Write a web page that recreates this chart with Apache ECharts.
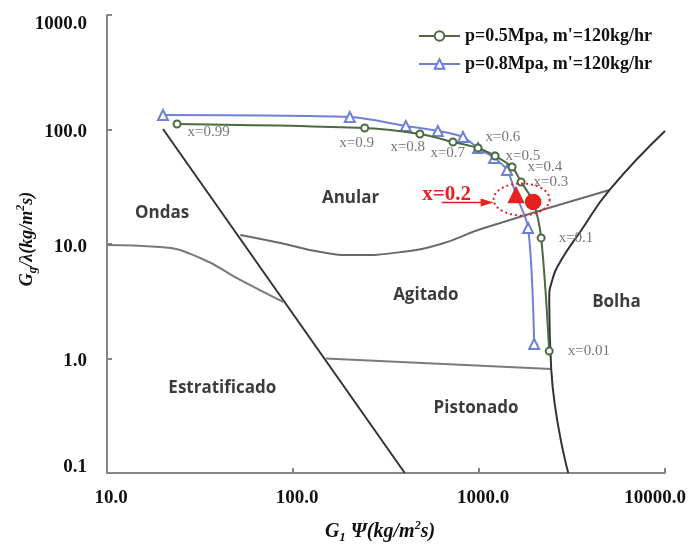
<!DOCTYPE html>
<html>
<head>
<meta charset="utf-8">
<script src="https://cdn.jsdelivr.net/npm/echarts@6/dist/echarts.min.js"></script>
<style>html,body{margin:0;padding:0;background:#fff}#c{width:690px;height:545px}</style>
</head>
<body>
<div id="c"></div>
<script>
// ---- data ----
const xTickValues = [10, 100, 1000, 10000];
const xTickLabels = ['10.0', '100.0', '1000.0', '10000.0'];
const yTickValues = [0.1, 1, 10, 100, 1000];
const yTickLabels = ['0.1', '1.0', '10.0', '100.0', '1000.0'];

const seriesNames = ["p=0.5Mpa, m'=120kg/hr", "p=0.8Mpa, m'=120kg/hr"];

// p=0.5 MPa (circles)
const g05X = [23.8, 243, 481, 724, 988, 1220, 1506, 1684, 1955, 2158, 2385];
const g05Y = [111.7, 103, 91.4, 77.8, 68.9, 58.7, 47, 34.8, 23.3, 11.3, 1.16];
const g05Q = ['x=0.99', 'x=0.9', 'x=0.8', 'x=0.7', 'x=0.6', 'x=0.5', 'x=0.4', 'x=0.3', 'x=0.2', 'x=0.1', 'x=0.01'];

// p=0.8 MPa (triangles)
const g08X = [20.0, 202, 404, 601, 820, 988, 1205, 1415, 1583, 1837, 1980];
const g08Y = [134, 128.6, 107.4, 97, 86, 68.9, 56.4, 44.3, 26.8, 13.8, 1.34];
const g08Q = ['x=0.99', 'x=0.9', 'x=0.8', 'x=0.7', 'x=0.6', 'x=0.5', 'x=0.4', 'x=0.3', 'x=0.2', 'x=0.1', 'x=0.01'];

const highlightQ = 'x=0.2';

// flow regime boundaries
const bStratX = [20.0, 399];            // Ondas / Estratificado steep line
const bStratY = [101, 0.1];
const bWavyX = [10, 19.3, 31.7, 52, 89]; // Ondas / Estratificado curve
const bWavyY = [9.8, 9.4, 7.55, 4.85, 3.11];
const bAnnX = [52.1, 85.7, 141, 212, 380, 624, 1025, 5024]; // Anular / Agitado
const bAnnY = [12.0, 10.2, 8.5, 8.0, 8.5, 10.0, 13.5, 29.6];
const bSlugX = [150, 2445];              // Agitado / Pistonado
const bSlugY = [1.0, 0.81];
const bBubX = [3020, 2445, 2385, 2477, 2767, 3548, 5024, 10000]; // Bolha
const bBubY = [0.1, 0.81, 3.24, 4.85, 7.24, 13.2, 29.6, 97];

const regionNames = ['Ondas', 'Anular', 'Agitado', 'Bolha', 'Pistonado', 'Estratificado'];
const regionX = [19.8, 204, 518, 5480, 964, 41.7];
const regionY = [18.7, 25.2, 3.59, 3.11, 0.37, 0.552];

// ---- styles ----
const GREEN = '#4b6a40';
const BLUE = '#6f80d8';
const RED = '#e82020';
const SERIF = '"Liberation Serif","Times New Roman",serif';
// label placement (pixel shifts from the marker) for the p=0.5 series
const labelShift05 = {
  'x=0.99': [6, 8],
  'x=0.9': [-30, 15],
  'x=0.8': [-34, 13],
  'x=0.7': [-27, 11],
  'x=0.6': [3, -11],
  'x=0.5': [6, 0],
  'x=0.4': [11, 0],
  'x=0.3': [8, 0],
  'x=0.1': [13, 0],
  'x=0.01': [14, 0]
};

const zip = (a, b) => a.map((v, i) => [v, b[i]]);

const d05 = g05X.map((x, i) => {
  const q = g05Q[i];
  if (q === highlightQ) {
    return {value: [x, g05Y[i]], name: q, symbol: 'circle', symbolSize: 15,
      itemStyle: {color: RED, borderColor: RED}, label: {show: false}};
  }
  return {value: [x, g05Y[i]], name: q, label: {show: true}};
});
const d08 = g08X.map((x, i) => {
  if (g08Q[i] === highlightQ) {
    return {value: [x, g08Y[i]], symbol: 'triangle', symbolSize: 15,
      itemStyle: {color: RED, borderColor: RED}};
  }
  return {value: [x, g08Y[i]]};
});

function boundary(xs, ys, color, width, smooth) {
  return {type: 'line', data: zip(xs, ys), symbol: 'none', silent: true, smooth: smooth || false,
    lineStyle: {color: color, width: width}, z: 1, animation: false};
}

function tickIdx(vals, v) {
  return vals.findIndex(t => Math.abs(Math.log10(t) - Math.log10(v)) < 1e-6);
}

const chart = echarts.init(document.getElementById('c'), null, {renderer: 'canvas'});
const axisFont = {fontFamily: SERIF, fontWeight: 'bold', fontSize: 19, color: '#111'};
const nameRich = (fs) => ({
  i: {fontFamily: SERIF, fontWeight: 'bold', fontStyle: 'italic', fontSize: fs, color: '#111', lineHeight: 24, verticalAlign: 'middle'},
  s: {fontFamily: SERIF, fontWeight: 'bold', fontStyle: 'italic', fontSize: 13, color: '#111', lineHeight: 24, verticalAlign: 'bottom'},
  p: {fontFamily: SERIF, fontWeight: 'bold', fontStyle: 'italic', fontSize: 12, color: '#111', lineHeight: 24, verticalAlign: 'top'}
});

chart.setOption({
  animation: false,
  backgroundColor: '#fff',
  grid: {left: 107, right: 25, top: 15, bottom: 72, containLabel: false, outerBoundsMode: 'none'},
  legend: {
    data: seriesNames.map(n => ({name: n})),
    orient: 'vertical', left: 413, top: 22, itemGap: 10, itemWidth: 41, itemHeight: 12,
    textStyle: {fontFamily: SERIF, fontWeight: 'bold', fontSize: 18, color: '#111'}
  },
  xAxis: {
    type: 'log', logBase: 10, min: 10, max: 10000,
    splitLine: {show: false},
    axisLine: {lineStyle: {color: '#858585', width: 2}},
    axisTick: {inside: true, length: 5, lineStyle: {color: '#858585', width: 2}},
    axisLabel: {
      margin: 16,
      formatter: v => {
        const i = tickIdx(xTickValues, v);
        if (i < 0) return '';
        return (i === xTickValues.length - 1 ? '{e|' : '{b|') + xTickLabels[i] + '}';
      },
      rich: {
        b: Object.assign({padding: [0, 0, 0, 8]}, axisFont),
        e: Object.assign({padding: [0, 20, 0, 0]}, axisFont)
      }
    },
    name: '{i|G}{s|1}{i| Ψ(kg/m}{p|2}{i|s)}',
    nameLocation: 'middle', nameGap: 47, nameMoveOverlap: false,
    nameTextStyle: {padding: [0, 12, 0, 0], rich: nameRich(20)}
  },
  yAxis: {
    type: 'log', logBase: 10, min: 0.1, max: 1000,
    splitLine: {show: false},
    axisLine: {lineStyle: {color: '#858585', width: 2}},
    axisTick: {inside: true, length: 5, lineStyle: {color: '#858585', width: 2}},
    axisLabel: {
      margin: 20,
      formatter: v => {
        const i = tickIdx(yTickValues, v);
        if (i < 0) return '';
        const k = i === yTickValues.length - 1 ? 't' : (i === 0 ? 'f' : 'm');
        return '{' + k + '|' + yTickLabels[i] + '}';
      },
      rich: {
        t: Object.assign({padding: [18, 0, 0, 0]}, axisFont),
        m: Object.assign({padding: [6, 0, 0, 0]}, axisFont),
        f: Object.assign({padding: [0, 0, 12, 0]}, axisFont)
      }
    },
    name: '{i|G}{s|g}{i|/λ(kg/m}{p|2}{i|s)}',
    nameLocation: 'middle', nameGap: 68, nameRotate: 90, nameMoveOverlap: false,
    nameTextStyle: {padding: [0, 0, 0, 10], rich: nameRich(18)}
  },
  series: [
    boundary(bStratX, bStratY, '#333', 2, false),
    boundary(bWavyX, bWavyY, '#7a7a7a', 2, true),
    boundary(bAnnX, bAnnY, '#6a6a6a', 2, true),
    boundary(bSlugX, bSlugY, '#7a7a7a', 2, false),
    boundary(bBubX, bBubY, '#333', 2, true),
    {
      type: 'scatter', silent: true, symbolSize: 0, z: 3,
      data: regionNames.map((n, i) => ({name: n, value: [regionX[i], regionY[i]]})),
      label: {show: true, position: 'inside', formatter: p => p.name,
        fontFamily: '"Open Sans", "Noto Sans", sans-serif', fontWeight: 'bold', fontSize: 17, color: '#0a0a0a'}
    },
    {
      name: seriesNames[1], type: 'line', data: d08, smooth: 0.3,
      symbol: 'emptyTriangle', symbolSize: 10, showAllSymbol: true,
      lineStyle: {color: BLUE, width: 2}, itemStyle: {color: BLUE, borderColor: BLUE, borderWidth: 1.5},
      z: 4
    },
    {
      name: seriesNames[0], type: 'line', data: d05, smooth: 0.3,
      symbol: 'emptyCircle', symbolSize: 7, showAllSymbol: true,
      lineStyle: {color: GREEN, width: 2}, itemStyle: {color: GREEN, borderColor: GREEN, borderWidth: 1.5},
      label: {fontFamily: SERIF, fontSize: 15, color: '#777', position: 'right', distance: 0,
        formatter: p => p.name},
      labelLayout: p => {
        const q = g05Q[p.dataIndex];
        const s = labelShift05[q] || [0, 0];
        return {dx: s[0], dy: s[1], hideOverlap: false};
      },
      z: 5
    }
  ]
});

// annotation around the highlighted quality
(function () {
  const i5 = g05Q.indexOf(highlightQ), i8 = g08Q.indexOf(highlightQ);
  const pc = chart.convertToPixel({xAxisIndex: 0, yAxisIndex: 0}, [g05X[i5], g05Y[i5]]);
  const pt = chart.convertToPixel({xAxisIndex: 0, yAxisIndex: 0}, [g08X[i8], g08Y[i8]]);
  const cx = (pc[0] + pt[0]) / 2 - 3, cy = (pc[1] + pt[1]) / 2 + 1;
  const rx = 28, ry = 16;
  const pts = [];
  for (let k = 0; k < 60; k++) {
    const a = k / 60 * Math.PI * 2;
    pts.push([cx + rx * Math.cos(a), cy + ry * Math.sin(a)]);
  }
  const left = cx - rx;
  chart.setOption({
    graphic: [
      {type: 'polygon', shape: {points: pts}, z: 10,
        style: {fill: 'none', stroke: RED, lineWidth: 2, lineDash: [2, 3]}},
      {type: 'line', shape: {x1: left - 52, y1: cy + 3, x2: left - 8, y2: cy + 3}, z: 10,
        style: {stroke: RED, lineWidth: 1.5}},
      {type: 'polygon', shape: {points: [[left - 13, cy - 1], [left, cy + 3], [left - 13, cy + 7]]}, z: 10,
        style: {fill: RED}},
      {type: 'text', x: left - 47, y: cy - 5, z: 10,
        style: {text: 'x=0.2', fill: RED, font: 'bold 21px ' + SERIF,
          align: 'center', verticalAlign: 'middle', textAlign: 'center', textVerticalAlign: 'middle'}}
    ]
  });
})();
</script>
</body>
</html>
